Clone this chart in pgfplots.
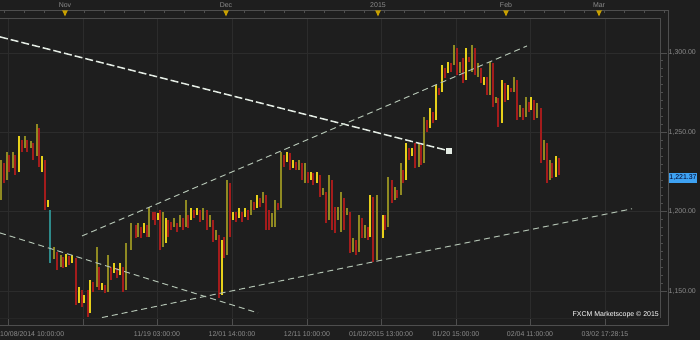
\documentclass[border=0pt]{standalone}
\usepackage{pgfplots}
\pgfplotsset{compat=1.18}
\usepackage{pgfplotstable}
\usepackage{fontspec}
\setmainfont{Liberation Sans}
\definecolor{bg}{HTML}{1E1E1E}
\definecolor{gridc}{HTML}{2C2C2C}
\definecolor{olivec}{HTML}{8F8A22}
\definecolor{yelc}{HTML}{E6D01A}
\definecolor{redc}{HTML}{A41C1C}
\definecolor{tealc}{HTML}{2E8A8A}
\definecolor{trend}{HTML}{B0C0B0}
\definecolor{trendw}{HTML}{E4ECE4}
\definecolor{lab}{HTML}{8C8C8C}
\definecolor{gold}{HTML}{C8A000}
\definecolor{tag}{HTML}{3EA2F2}
\definecolor{rulec}{HTML}{4E4E4E}

% olive (up) candles: x position, low, high
\pgfplotstableread{
x lo hi
1 1207.4 1232.6
7 1220.0 1237.6
13 1227.5 1237.6
25 1240.1 1247.7
31 1240.1 1244.6
37 1235.1 1255.3
54 1170.2 1177.8
61 1165.2 1172.7
97 1152.6 1177.8
108 1149.4 1172.7
126 1150.7 1180.3
131 1175.9 1192.9
138 1184.1 1192.9
149 1184.1 1203.0
163 1177.8 1199.8
174 1190.4 1196.0
180 1190.4 1197.9
186 1190.4 1207.4
203 1194.8 1202.3
210 1190.4 1197.9
216 1182.2 1188.5
227 1172.7 1220.0
251 1197.9 1207.4
263 1205.5 1212.4
272 1190.4 1199.2
275 1190.4 1207.4
281 1202.3 1237.6
299 1226.3 1232.6
305 1218.1 1230.7
323 1210.5 1214.9
329 1194.8 1223.1
338 1194.8 1203.0
341 1187.2 1212.4
347 1197.9 1202.3
353 1174.6 1183.4
359 1174.6 1197.9
365 1183.4 1191.6
377 1169.6 1210.5
388 1190.4 1221.9
395 1207.4 1215.6
401 1210.5 1230.7
419 1228.2 1243.3
424 1230.7 1259.7
454 1292.4 1305.0
460 1287.4 1294.3
472 1288.0 1305.0
478 1284.9 1293.7
490 1273.5 1294.3
496 1268.5 1272.3
514 1275.4 1284.9
520 1259.7 1267.2
526 1259.7 1272.3
537 1259.0 1268.5
544 1232.6 1245.2
550 1220.0 1232.6
}\olivebars

% bright yellow (up) candles
\pgfplotstableread{
x lo hi
19 1225.0 1247.7
42 1225.0 1235.1
48 1203.0 1207.4
66 1165.2 1173.3
72 1167.7 1172.7
79 1142.5 1152.6
84 1142.5 1147.5
90 1136.2 1157.0
102 1150.7 1155.1
114 1161.4 1167.7
120 1160.1 1167.7
144 1186.6 1192.9
158 1194.8 1199.2
166 1180.3 1196.0
191 1194.8 1202.3
197 1197.9 1202.3
222 1147.5 1182.2
233 1194.8 1199.8
239 1196.0 1202.3
245 1196.7 1202.3
257 1202.3 1210.5
287 1231.3 1237.6
293 1227.5 1232.6
311 1220.0 1225.0
317 1218.1 1225.0
370 1184.1 1210.5
383 1183.4 1197.9
406 1220.0 1243.3
412 1235.1 1240.1
430 1252.7 1265.3
436 1257.8 1279.8
442 1275.4 1292.4
448 1287.4 1294.3
466 1283.0 1303.2
484 1279.8 1284.9
502 1255.9 1283.0
508 1270.4 1279.8
531 1264.1 1272.3
556 1221.9 1235.1
}\yellowbars

% red (down) candles
\pgfplotstableread{
x lo hi
4 1218.1 1230.7
9 1225.0 1235.7
15 1223.1 1235.7
22 1237.6 1245.2
27 1237.6 1245.2
33 1232.6 1243.3
39 1228.2 1252.7
45 1201.1 1232.6
57 1163.3 1174.6
63 1164.5 1171.5
69 1166.4 1172.1
76 1141.2 1170.8
82 1140.0 1150.7
88 1133.7 1150.7
93 1149.4 1155.7
99 1150.7 1165.2
105 1148.8 1153.8
111 1157.0 1165.2
117 1158.2 1164.5
123 1149.4 1165.2
136 1183.4 1191.6
141 1183.4 1190.4
147 1184.1 1191.6
153 1194.8 1199.8
155 1191.6 1199.8
160 1175.9 1201.1
168 1184.1 1194.8
171 1188.5 1193.5
177 1187.2 1192.9
183 1188.5 1196.0
188 1189.7 1197.9
194 1196.0 1201.1
200 1193.5 1201.1
207 1188.5 1201.1
213 1180.9 1194.8
219 1145.6 1185.3
224 1170.8 1184.1
230 1184.1 1218.1
236 1193.5 1199.8
242 1193.5 1199.8
248 1194.8 1201.1
254 1201.1 1206.1
260 1203.0 1208.6
266 1188.5 1210.5
269 1188.5 1201.1
278 1201.1 1205.5
284 1228.2 1235.7
290 1226.3 1237.0
296 1226.3 1231.3
302 1220.0 1230.7
308 1218.1 1225.0
313 1216.8 1224.4
320 1209.3 1223.1
326 1192.9 1212.4
332 1188.5 1220.0
335 1186.6 1203.0
344 1188.5 1208.6
350 1174.0 1199.8
356 1172.7 1182.2
362 1183.4 1196.0
368 1182.2 1190.4
373 1168.3 1209.3
385 1188.5 1197.9
392 1205.5 1220.0
397 1208.6 1213.7
403 1218.1 1226.3
409 1232.6 1240.1
415 1227.5 1243.3
421 1229.4 1242.0
427 1250.2 1257.8
433 1255.9 1262.8
439 1273.5 1277.9
445 1284.2 1290.5
451 1288.0 1293.7
457 1286.1 1303.2
463 1281.1 1296.8
469 1294.3 1297.5
475 1286.1 1303.2
481 1281.1 1290.5
487 1273.5 1284.9
493 1266.0 1293.7
498 1253.4 1271.6
505 1269.1 1281.1
511 1275.4 1277.9
517 1257.8 1283.0
523 1257.8 1265.3
529 1262.8 1269.1
534 1257.8 1270.4
541 1230.7 1265.3
547 1218.1 1243.3
552 1221.2 1230.7
559 1223.1 1233.8
}\redbars

\pgfplotstableread{
x lo hi
50 1167.7 1201.1
}\tealbars

\begin{document}
\begin{tikzpicture}
\fill[bg] (0bp,0bp) rectangle (700bp,340bp);
\begin{axis}[
  at={(0bp,22bp)}, anchor=south west,
  scale only axis, width=660bp, height=300bp,
  xmin=0, xmax=660, ymin=1133, ymax=1322,
  axis line style={draw=none},
  grid=major, major grid style={draw=gridc, line width=0.8bp},
  xtick={8,83,157,232,307,381,456,530,605},
  xticklabels={,,11/19 03:00:00,12/01 14:00:00,12/11 10:00:00,01/02/2015 13:00:00,01/20 15:00:00,02/04 11:00:00,03/02 17:28:15},
  extra x ticks={8},
  extra x tick labels={10/08/2014 10:00:00},
  extra x tick style={grid=none, xticklabel style={anchor=north west, xshift=-8bp}},
  minor x tick num=4,
  ytick={1150,1200,1250,1300},
  yticklabel={\pgfmathprintnumber[fixed, fixed zerofill, precision=2, 1000 sep={,}]{\tick}},
  minor y tick num=9,
  xtick pos=bottom, ytick pos=right,
  tick align=outside,
  major tick length=7bp, minor tick length=3bp,
  tick style={draw=rulec, line width=0.8bp},
  /pgf/number format/assume math mode=true,
  tick label style={font=\fontsize{7}{8}\selectfont, text=lab},
  xticklabel style={anchor=north, inner sep=0pt, yshift=-6bp},
  yticklabel style={anchor=west, inner sep=0pt, xshift=1.5bp},
]
\addplot[olivec, line width=2.4bp, mark=none, quiver={u=0, v=\thisrow{hi}-\thisrow{lo}}]
  table[x=x, y=lo] {\olivebars};
\addplot[yelc, line width=1.4bp, mark=none, quiver={u=0, v=\thisrow{hi}-\thisrow{lo}}]
  table[x=x, y=lo] {\yellowbars};
\addplot[redc, line width=1.4bp, mark=none, quiver={u=0, v=\thisrow{hi}-\thisrow{lo}}]
  table[x=x, y=lo] {\redbars};
\addplot[tealc, line width=1.4bp, mark=none, quiver={u=0, v=\thisrow{hi}-\thisrow{lo}}]
  table[x=x, y=lo] {\tealbars};
% trend lines
\addplot[trendw, line width=1.5bp, dash pattern=on 8bp off 3bp, mark=square*, mark indices={2}, mark size=2bp, mark options={solid, fill=trendw}]
  coordinates {(0,1310.1) (449,1238.3)};
\addplot[trend, line width=1bp, dash pattern=on 6bp off 4bp] coordinates {(0,1186.6) (258,1136.2)};
\addplot[trend, line width=1bp, dash pattern=on 6bp off 4bp] coordinates {(82,1184.7) (527,1304.4)};
\addplot[trend, line width=1bp, dash pattern=on 6bp off 4bp] coordinates {(102,1133.3) (632,1201.8)};
\end{axis}
\begin{scope}[x=1bp, y=1bp]
\draw[black!85, line width=0.8] (0,22) -- (660,22);
\draw[black!70, line width=0.8] (0,322) -- (660,322);
\draw[black!70, line width=0.8] (660,22) -- (660,322);
\draw[rulec, line width=0.8] (0,330) -- (668,330) -- (668,15) -- (0,15);
\foreach \x in {4,24,...,664} \draw[rulec, line width=0.6] (\x,330) -- (\x,327);
\foreach \x/\m in {65/Nov,226/Dec,378/2015,506/Feb,599/Mar} {
  \fill[gold] (\x-2.8,329.6) -- (\x+2.8,329.6) -- (\x,323.6) -- cycle;
  \node[text=lab, font=\fontsize{7}{8}\selectfont, anchor=base, inner sep=0pt] at (\x,332.5) {\m};
}
\node[text=white, font=\fontsize{7}{8}\selectfont, anchor=base east, inner sep=0pt] at (659,24) {FXCM Marketscope © 2015};
\node[fill=tag, text=black!85!blue, font=\fontsize{7}{8}\selectfont, minimum width=28bp, minimum height=9.5bp, inner sep=0pt] at (683,162) {1,221.37};
\pgfresetboundingbox
\path (0,0) rectangle (700,340);
\end{scope}
\end{tikzpicture}
\end{document}
